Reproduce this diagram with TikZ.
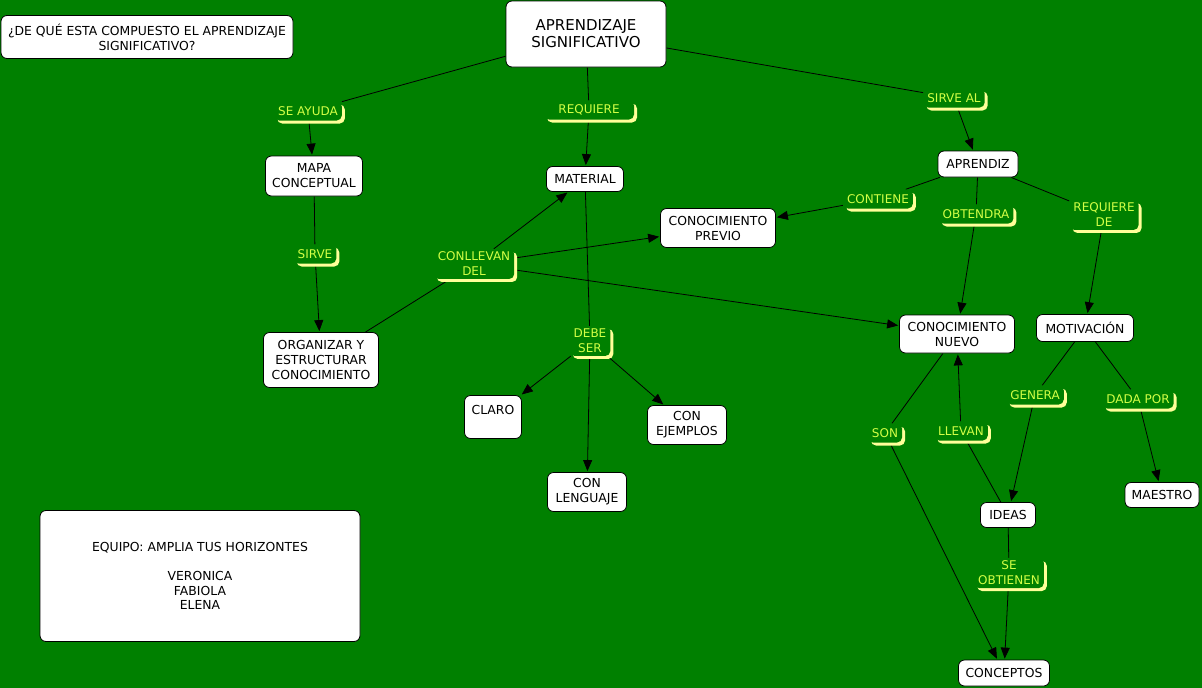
\documentclass[tikz,border=0pt]{standalone}
\usepackage{fontspec}
\setmainfont{DejaVu Sans}
\usetikzlibrary{shadows,arrows.meta}
\definecolor{bg}{RGB}{0,128,0}
\definecolor{labtext}{RGB}{210,255,70}
\definecolor{labshadow}{RGB}{255,255,153}
\pgfdeclarelayer{bgl}
\pgfdeclarelayer{edges}
\pgfsetlayers{bgl,edges,main}
\begin{document}
\begin{tikzpicture}[x=1pt,y=-1pt,
  bx/.style={draw=black, fill=white, rounded corners=6pt, align=center,
    font=\fontsize{12.4}{15}\selectfont, line width=0.8pt, inner sep=0pt},
  sz/.style 2 args={minimum width=#1pt, minimum height=#2pt},
  lab/.style={text=labtext, fill=bg, rounded corners=5pt, align=center,
    font=\fontsize{12}{15}\selectfont, inner xsep=4pt, inner ysep=3pt, minimum height=19pt,
    drop shadow={shadow xshift=3pt,shadow yshift=-3pt,fill=labshadow,opacity=1}},
  ln/.style={draw=black, line width=0.8pt},
  ar/.style={ln, -{Triangle[length=11pt,width=9pt]}, shorten >=1pt}]
\begin{pgfonlayer}{bgl}
\fill[bg] (0,0) rectangle (1202,688);
\end{pgfonlayer}
\useasboundingbox (0,0) rectangle (1202,688);

% boxes
\node[bx, sz={292}{43}] (q) at (147,37) {¿DE QUÉ ESTA COMPUESTO EL APRENDIZAJE\\SIGNIFICATIVO?};
\node[bx, sz={160}{66}, font=\fontsize{15}{17}\selectfont] (top) at (586,34) {APRENDIZAJE\\SIGNIFICATIVO};
\node[bx, sz={97}{40}] (mapa) at (314,176) {MAPA\\CONCEPTUAL};
\node[bx, sz={77}{25}] (material) at (585,179) {MATERIAL};
\node[bx, sz={80}{26}] (aprendiz) at (978,164) {APRENDIZ};
\node[bx, sz={115}{39}] (previo) at (718,228) {CONOCIMIENTO\\PREVIO};
\node[bx, sz={115}{55}] (organizar) at (321,360) {ORGANIZAR Y\\ESTRUCTURAR\\CONOCIMIENTO};
\node[bx, sz={115}{38}] (nuevo) at (957,334) {CONOCIMIENTO\\NUEVO};
\node[bx, sz={97}{27}] (motivacion) at (1085,328) {MOTIVACIÓN};
\node[bx, sz={57}{43}] (claro) at (493,417) {CLARO\\~};
\node[bx, sz={79}{39}] (ejemplos) at (687,425) {CON\\EJEMPLOS};
\node[bx, sz={79}{39}] (lenguaje) at (587,492) {CON\\LENGUAJE};
\node[bx, sz={74}{25}] (maestro) at (1162,495) {MAESTRO};
\node[bx, sz={55}{25}] (ideas) at (1008,515) {IDEAS};
\node[bx, sz={91}{26}] (conceptos) at (1004,673) {CONCEPTOS};
\node[bx, sz={320}{131}, font=\fontsize{12.4}{14.5}\selectfont] (equipo) at (200,576)
  {EQUIPO: AMPLIA TUS HORIZONTES\\~\\VERONICA\\FABIOLA\\ELENA};

% labels
\node[lab] (seayuda) at (308,111) {SE AYUDA};
\node[lab, minimum width=90pt] (requiere) at (589,110) {REQUIERE};
\node[lab] (sirveal) at (954,98) {SIRVE AL};
\node[lab] (sirve) at (315,254) {SIRVE};
\node[lab] (conllevan) at (474,264) {CONLLEVAN\\DEL};
\node[lab] (contiene) at (878,199) {CONTIENE};
\node[lab] (obtendra) at (976,214) {OBTENDRA};
\node[lab] (requierede) at (1104,215) {REQUIERE\\DE};
\node[lab] (debeser) at (590,341) {DEBE\\SER};
\node[lab] (son) at (885,433) {SON};
\node[lab] (llevan) at (961,431) {LLEVAN};
\node[lab] (genera) at (1035,395) {GENERA};
\node[lab] (dadapor) at (1138,399) {DADA POR};
\node[lab] (seobtienen) at (1009,573) {SE\\OBTIENEN};

\begin{pgfonlayer}{edges}
\draw[ln] (top) -- (seayuda);
\draw[ar] (seayuda) -- (mapa);
\draw[ln] (top) -- (requiere);
\draw[ar] (requiere) -- (material);
\draw[ln] (top) -- (sirveal);
\draw[ar] (sirveal) -- (aprendiz);
\draw[ln] (mapa) -- (sirve);
\draw[ar] (sirve) -- (organizar);
\draw[ln] (organizar) -- (conllevan);
\draw[ar] (conllevan) -- (material);
\draw[ar] (conllevan) -- (previo);
\draw[ar] (conllevan) -- (nuevo);
\draw[ln] (material) -- (debeser);
\draw[ar] (debeser) -- (claro);
\draw[ar] (debeser) -- (lenguaje);
\draw[ar] (debeser) -- (ejemplos);
\draw[ln] (aprendiz) -- (contiene);
\draw[ar] (contiene) -- (previo);
\draw[ln] (aprendiz) -- (obtendra);
\draw[ar] (obtendra) -- (nuevo);
\draw[ln] (aprendiz) -- (requierede);
\draw[ar] (requierede) -- (motivacion);
\draw[ln] (nuevo) -- (son);
\draw[ar] (son) -- (conceptos);
\draw[ln] (ideas) -- (llevan);
\draw[ar] (llevan) -- (nuevo);
\draw[ln] (motivacion) -- (genera);
\draw[ar] (genera) -- (ideas);
\draw[ln] (motivacion) -- (dadapor);
\draw[ar] (dadapor) -- (maestro);
\draw[ln] (ideas) -- (seobtienen);
\draw[ar] (seobtienen) -- (conceptos);
\end{pgfonlayer}
\end{tikzpicture}
\end{document}
